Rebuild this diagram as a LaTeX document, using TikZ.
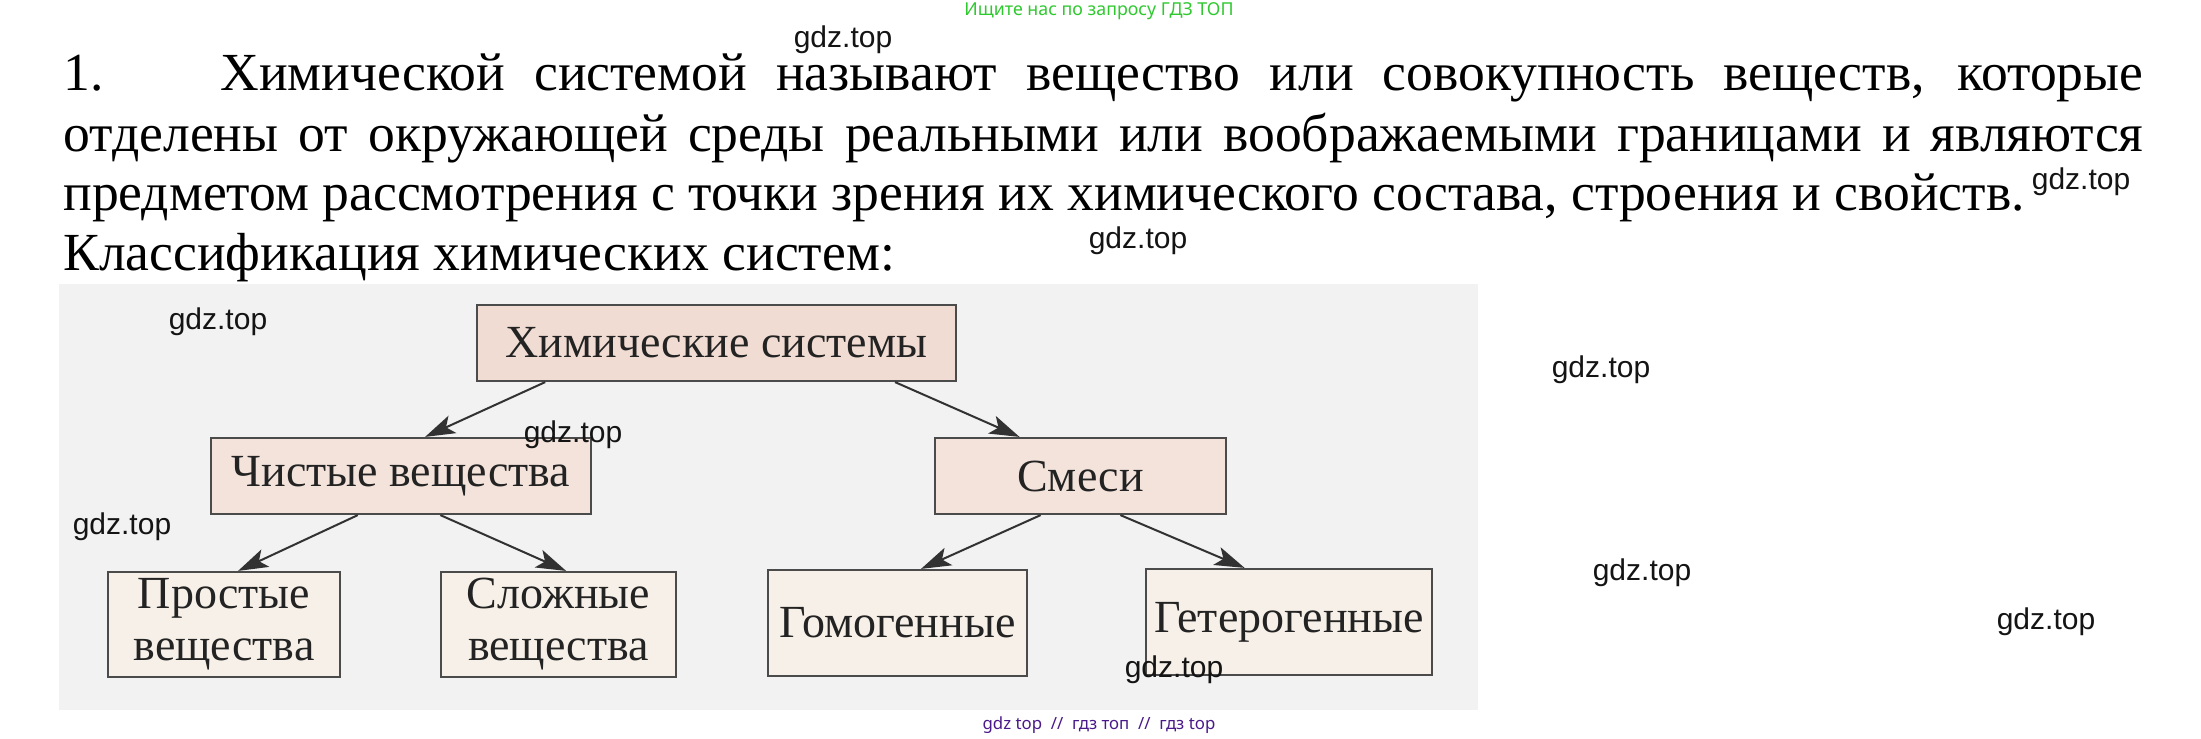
\documentclass[tikz,border=0pt]{standalone}
\usepackage{fontspec}
\setmainfont{Liberation Serif}
\newfontfamily\wmfont{Liberation Sans}
\newfontfamily\hdfont{Noto Sans}
\usetikzlibrary{calc,arrows.meta}
\definecolor{bgc}{RGB}{243,242,243}
\definecolor{topfill}{RGB}{240,220,211}
\definecolor{midfill}{RGB}{243,227,219}
\definecolor{lowfill}{RGB}{247,240,232}
\definecolor{boxline}{RGB}{75,75,75}
\definecolor{boxtext}{RGB}{35,35,35}
\definecolor{arrowc}{RGB}{50,50,50}
\definecolor{hdgreen}{RGB}{47,201,47}
\definecolor{ftpurple}{RGB}{74,26,138}
\tikzset{
  box/.style={draw=boxline, line width=1.1pt, inner sep=0pt, align=center, text=boxtext,
    font=\fontsize{23}{26}\selectfont},
  txt/.style={inner sep=0pt, anchor=base west, font=\fontsize{26.8}{30}\selectfont},
  wm/.style={inner sep=0pt, font=\wmfont\fontsize{15}{15}\selectfont, text=black!92},
  conn/.style={draw=arrowc, line width=1pt, -{Stealth[length=15pt,width=9.5pt,inset=3.5pt]}}
}
\begin{document}
\begin{tikzpicture}[x=0.5pt,y=-0.5pt]
\useasboundingbox (0,0) rectangle (2201,739);
\fill[white] (0,0) rectangle (2201,739);
% header
\node[inner sep=0pt, text=hdgreen, font=\hdfont\fontsize{8.9}{8.9}\selectfont] (hd) at (1099,11) {Ищите нас по запросу ГДЗ ТОП};
% paragraph
\node[txt] (n1) at (63,90) {1.};
\node[txt] (l1) at (220,90) {\makebox[961.5pt][s]{Химической системой называют вещество или совокупность веществ, которые}};
\node[txt] (l2) at (63,151) {\makebox[1040pt][s]{отделены от окружающей среды реальными или воображаемыми границами и являются}};
\node[txt] (l3) at (63,210) {предметом рассмотрения с точки зрения их химического состава, строения и свойств.};
\node[txt] (l4) at (63,270) {Классификация химических систем:};
% diagram background
\fill[bgc] (59,284) rectangle (1478,710);
% boxes
\node[box, fill=topfill, minimum width=239.5pt, minimum height=38pt] (A) at (716.5,343) {Химические системы};
\node[box, fill=midfill, minimum width=190pt, minimum height=38pt] (B) at (401,476) {Чистые вещества};
\node[box, fill=midfill, minimum width=145.5pt, minimum height=38pt] (C) at (1080.5,476) {Смеси};
\node[box, fill=lowfill, minimum width=116pt, minimum height=52.5pt] (D) at (224,624.5) {Простые\\вещества};
\node[box, fill=lowfill, minimum width=117.5pt, minimum height=52.5pt] (E) at (558.5,624.5) {Сложные\\вещества};
\node[box, fill=lowfill, minimum width=129.5pt, minimum height=53pt] (F) at (897.5,623) {Гомогенные};
\node[box, fill=lowfill, minimum width=143pt, minimum height=53pt] (G) at (1289,622) {Гетерогенные};
% connectors
\draw[conn] ($(A.south west)!0.144!(A.south east)$) -- ($(B.north west)!0.563!(B.north east)$);
\draw[conn] ($(A.south west)!0.871!(A.south east)$) -- ($(C.north west)!0.292!(C.north east)$);
\draw[conn] ($(B.south west)!0.387!(B.south east)$) -- ($(D.north west)!0.56!(D.north east)$);
\draw[conn] ($(B.south west)!0.603!(B.south east)$) -- ($(E.north west)!0.532!(E.north east)$);
\draw[conn] ($(C.south west)!0.364!(C.south east)$) -- ($(F.north west)!0.59!(F.north east)$);
\draw[conn] ($(C.south west)!0.636!(C.south east)$) -- ($(G.north west)!0.346!(G.north east)$);
% watermarks
\node[wm] (w1) at (843,40) {gdz.top};
\node[wm] (w2) at (2081,182) {gdz.top};
\node[wm] (w3) at (1138,241) {gdz.top};
\node[wm] (w4) at (218,322) {gdz.top};
\node[wm] (w5) at (573,435) {gdz.top};
\node[wm] (w6) at (122,527) {gdz.top};
\node[wm] (w7) at (1601,370) {gdz.top};
\node[wm] (w8) at (1642,573) {gdz.top};
\node[wm] (w9) at (2046,622) {gdz.top};
\node[wm] (w10) at (1174,670) {gdz.top};
% footer
\node[inner sep=0pt, text=ftpurple, font=\hdfont\fontsize{8.4}{8.4}\selectfont] (ft) at (1099,725) {gdz top\ \ //\ \ гдз топ\ \ //\ \ гдз top};
\end{tikzpicture}
\end{document}
